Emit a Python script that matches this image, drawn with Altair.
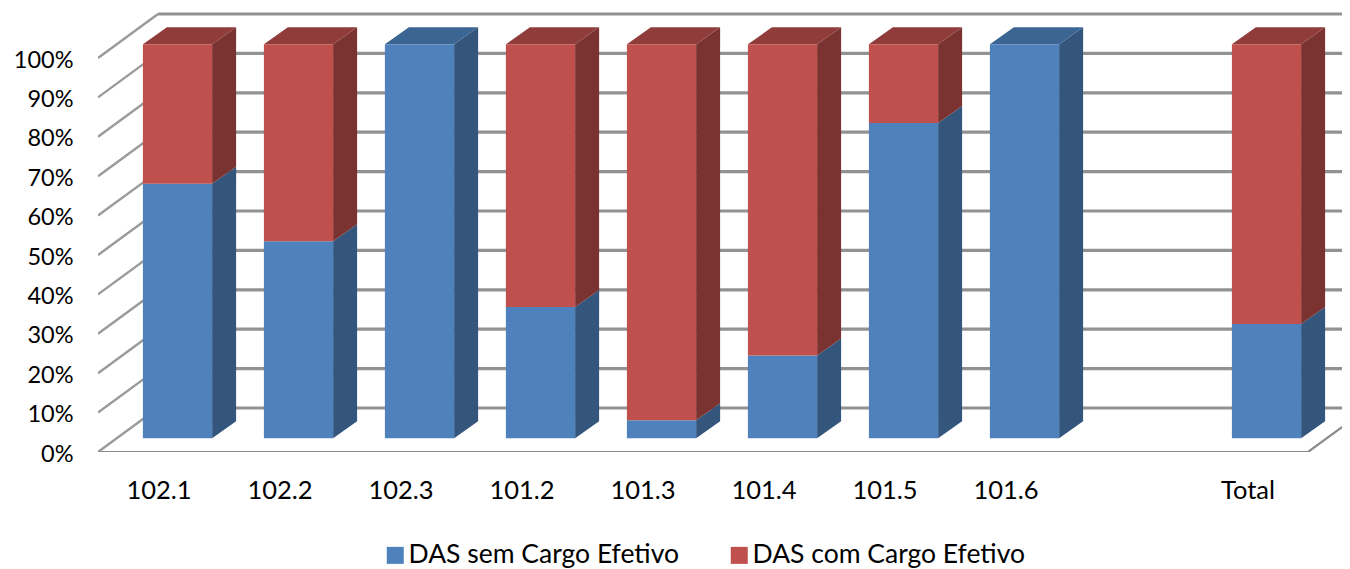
import altair as alt
import pandas as pd

categories = ["102.1", "102.2", "102.3", "101.2", "101.3", "101.4", "101.5", "101.6", "Total"]
slots = [0, 1, 2, 3, 4, 5, 6, 7, 9]
sem_cargo = [64.6, 50, 100, 33.3, 4.6, 21, 80, 100, 29]
com_cargo = [35.4, 50, 0, 66.7, 95.4, 79, 20, 0, 71]
ticks = [0, 10, 20, 30, 40, 50, 60, 70, 80, 90, 100]
SEM = "DAS sem Cargo Efetivo"
COM = "DAS com Cargo Efetivo"

PX_X = 121.0
PX_Y = 3.94
W, H = 1244, 444
x_dom = [-0.5, -0.5 + W / PX_X]
y_dom = [0, H / PX_Y]
FONT = "Lato"

# depth of the 3-D box in data units
wall_dx, wall_dy = 60 / PX_X, 44 / PX_Y
bar_off_x, bar_off_y = 19 / PX_X, 13.7 / PX_Y
bar_half = 34.6 / PX_X
bar_dx, bar_dy = 24 / PX_X, 17 / PX_Y

xs = alt.Scale(domain=x_dom, nice=False, zero=False)
ys = alt.Scale(domain=y_dom, nice=False, zero=False)
labels_expr = "{" + ",".join(f"'{s}':'{c}'" for s, c in zip(slots, categories)) + "}[datum.value]"

X = alt.X("x:Q", scale=xs, title=None,
          axis=alt.Axis(values=slots, labelExpr=labels_expr, grid=False, domain=False, ticks=False,
                        labelPadding=26, labelFont=FONT, labelFontSize=25.5, labelColor="#000000",
                        labelFlush=False, labelOverlap=False))
Y = alt.Y("y:Q", scale=ys, title=None, stack=None,
          axis=alt.Axis(values=ticks, labelExpr="datum.value + '%'", grid=False, domain=False, ticks=False,
                        labelPadding=25, labelFont=FONT, labelFontSize=23.5, labelColor="#000000",
                        labelOffset=2))

# --- walls and floor
back, side, floor = [], [], []
for t in ticks:
    back += [dict(id=t, x=-0.5 + wall_dx, y=t + wall_dy), dict(id=t, x=x_dom[1], y=t + wall_dy)]
    side += [dict(id=t, x=-0.5, y=t), dict(id=t, x=-0.5 + wall_dx, y=t + wall_dy)]
floor += [dict(x=-0.5, y=0), dict(x=9.5, y=0), dict(x=9.5 + wall_dx, y=wall_dy)]

back_l = alt.Chart(pd.DataFrame(back)).mark_line(color="#929292", strokeWidth=3.2, clip=True).encode(x=X, y=Y, detail="id:N")
side_l = alt.Chart(pd.DataFrame(side)).mark_line(color="#9a9a9a", strokeWidth=2.4, clip=True).encode(x=X, y=Y, detail="id:N")
floor_l = alt.Chart(pd.DataFrame(floor)).mark_line(color="#8c8c8c", strokeWidth=2.2, clip=True).encode(x=X, y=Y)

# --- bars
front, sides = [], {SEM: [], COM: []}
tops = {SEM: [], COM: []}
for s, a, b in zip(slots, sem_cargo, com_cargo):
    xl = s + bar_off_x - bar_half
    xr = s + bar_off_x + bar_half
    for name, lo, hi in ((SEM, 0, a), (COM, a, a + b)):
        if hi <= lo:
            continue
        lo_v, hi_v = lo + bar_off_y, hi + bar_off_y
        front.append(dict(series=name, x=xl, x2=xr, y=lo_v, y2=hi_v))
        sides[name] += [dict(id=s, x=xr, y=lo_v, y2=hi_v),
                        dict(id=s, x=xr + bar_dx, y=lo_v + bar_dy, y2=hi_v + bar_dy)]
        if hi >= 100:
            tops[name] += [dict(id=s, x=xl, y=hi_v, y2=hi_v),
                           dict(id=s, x=xl + bar_dx, y=hi_v + bar_dy, y2=hi_v),
                           dict(id=s, x=xr, y=hi_v + bar_dy, y2=hi_v),
                           dict(id=s, x=xr + bar_dx, y=hi_v + bar_dy, y2=hi_v + bar_dy)]

side_colors = {SEM: "#34557C", COM: "#7B3331"}
top_colors = {SEM: "#3B6592", COM: "#8F3C3A"}
faces = []
for name in (SEM, COM):
    faces.append(alt.Chart(pd.DataFrame(sides[name])).mark_area(color=side_colors[name], interpolate="linear", line=False)
                 .encode(x=X, y=Y, y2=alt.Y2("y2:Q"), detail="id:N"))
    faces.append(alt.Chart(pd.DataFrame(tops[name])).mark_area(color=top_colors[name], interpolate="linear", line=False)
                 .encode(x=X, y=Y, y2=alt.Y2("y2:Q"), detail="id:N"))

front_l = alt.Chart(pd.DataFrame(front)).mark_rect().encode(
    x=X, x2=alt.X2("x2:Q"), y=Y, y2=alt.Y2("y2:Q"),
    color=alt.Color("series:N", title=None,
                    scale=alt.Scale(domain=[SEM, COM], range=["#4F81BD", "#C0504D"]),
                    legend=alt.Legend(orient="none", legendX=284, legendY=534, direction="horizontal",
                                      symbolType="square", symbolSize=289, symbolStrokeWidth=0,
                                      labelFont=FONT, labelFontSize=26.5, labelColor="#000000",
                                      labelOffset=0, columnPadding=46, labelLimit=400, symbolOpacity=1)))

chart = alt.layer(back_l, side_l, floor_l, *faces, front_l).properties(
    width=W, height=H, background="white",
    padding={"left": 90, "top": 0, "right": 0, "bottom": 117},
    autosize=alt.AutoSizeParams(type="none"),
).configure_view(stroke=None)

chart.save("out.html", embed_options={"renderer": "svg", "actions": False})
